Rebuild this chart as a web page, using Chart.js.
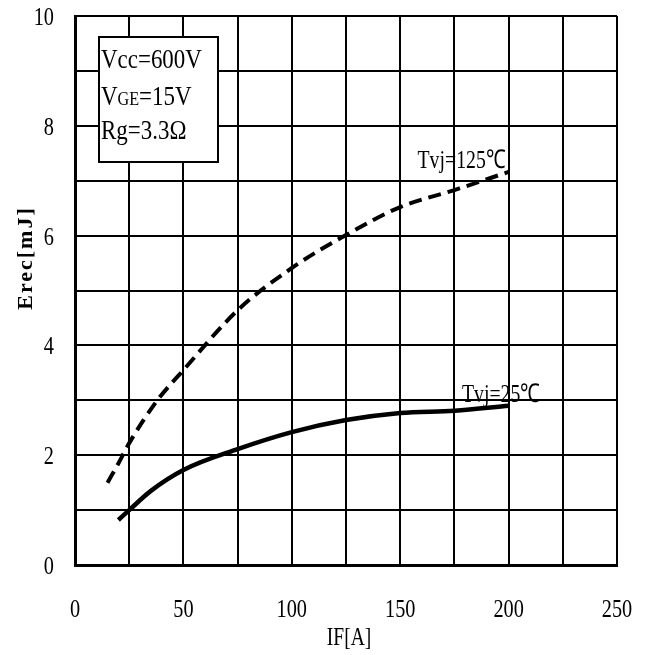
<!DOCTYPE html>
<html>
<head>
<meta charset="utf-8">
<script src="https://cdn.jsdelivr.net/npm/chart.js@4/dist/chart.umd.min.js"></script>
<style>
  html, body { margin: 0; padding: 0; background: #fff; }
  #wrap { width: 653px; height: 655px; position: relative; }
</style>
</head>
<body>
<div id="wrap"><canvas id="erecChart"></canvas></div>
<script>
"use strict";

// values
const xTicks = [0, 50, 100, 150, 200, 250];
const yTicks = [0, 2, 4, 6, 8, 10];

const ifHot = [15, 20, 25, 38, 50, 75, 100, 125, 150, 175, 200];
const erecHot = [1.5, 1.85, 2.22, 3.0, 3.55, 4.64, 5.41, 6.01, 6.52, 6.83, 7.16];

const ifCold = [20, 25, 35, 50, 75, 100, 125, 150, 175, 200];
const erecCold = [0.82, 1.0, 1.35, 1.73, 2.11, 2.42, 2.64, 2.77, 2.81, 2.9];

const condLines = ['Vcc=600V', 'VGE=15V', 'Rg=3.3Ω'];

const SERIF = '"Liberation Serif", "Times New Roman", serif';

function toPoints(xs, ys) {
  return xs.map((x, i) => ({ x: x, y: ys[i] }));
}

// text in the original is a narrow serif, so squeeze it a bit
function drawText(ctx, str, x, y, size, align, sx) {
  sx = sx || 0.78;
  ctx.save();
  ctx.translate(x, y);
  ctx.scale(sx, 1);
  ctx.font = size + 'px ' + SERIF;
  ctx.fillStyle = '#000';
  ctx.textAlign = align || 'left';
  ctx.textBaseline = 'alphabetic';
  ctx.fillText(str, 0, 0);
  const w = ctx.measureText(str).width * sx;
  ctx.restore();
  return w;
}

const textPlugin = {
  id: 'textPlugin',
  afterDraw(chart) {
    const ctx = chart.ctx;
    const xs = chart.scales.x;
    const ys = chart.scales.y;

    // tick labels
    xTicks.forEach(v => {
      drawText(ctx, String(v), xs.getPixelForValue(v), 617, 26, 'center');
    });
    yTicks.forEach(v => {
      drawText(ctx, String(v), 54, ys.getPixelForValue(v) + 9, 26, 'right');
    });

    // axis titles
    drawText(ctx, 'IF[A]', 349, 645, 25, 'center');
    ctx.save();
    ctx.translate(32, 258);
    ctx.rotate(-Math.PI / 2);
    ctx.font = 'bold 22px ' + SERIF;
    ctx.letterSpacing = '2px';
    ctx.textAlign = 'center';
    ctx.fillStyle = '#000';
    ctx.fillText('Erec[mJ]', 0, 0);
    ctx.restore();

    // condition box
    ctx.save();
    ctx.fillStyle = '#fff';
    ctx.strokeStyle = '#000';
    ctx.lineWidth = 2;
    ctx.fillRect(99, 37, 119, 125);
    ctx.strokeRect(99, 37, 119, 125);
    ctx.restore();
    drawText(ctx, condLines[0], 101, 68, 27, 'left', 0.85);
    let w = drawText(ctx, 'V', 101, 105, 27, 'left', 0.85);
    w += drawText(ctx, 'GE', 101 + w, 105, 19, 'left', 0.85);
    drawText(ctx, '=15V', 101 + w, 105, 27, 'left', 0.85);
    drawText(ctx, condLines[2], 101, 139, 27, 'left', 0.85);

    // curve labels
    drawText(ctx, 'Tvj=125℃', xs.getPixelForValue(158), ys.getPixelForValue(7.23), 26, 'left', 0.76);
    drawText(ctx, 'Tvj=25℃', xs.getPixelForValue(178.5), ys.getPixelForValue(2.97), 26, 'left', 0.76);
  }
};

const ctx = document.getElementById('erecChart').getContext('2d');
const chart = new Chart(ctx, {
  type: 'line',
  data: {
    datasets: [
      {
        label: 'Tvj=125℃',
        data: toPoints(ifHot, erecHot),
        borderColor: '#000',
        borderWidth: 4,
        borderDash: [13, 7],
        pointRadius: 0,
        cubicInterpolationMode: 'monotone',
        fill: false
      },
      {
        label: 'Tvj=25℃',
        data: toPoints(ifCold, erecCold),
        borderColor: '#000',
        borderWidth: 4.5,
        pointRadius: 0,
        cubicInterpolationMode: 'monotone',
        fill: false
      }
    ]
  },
  options: {
    responsive: true,
    maintainAspectRatio: false,
    animation: false,
    layout: { padding: { left: 75, right: 36, top: 16, bottom: 90 } },
    plugins: { legend: { display: false }, tooltip: { enabled: false } },
    scales: {
      x: {
        type: 'linear',
        min: 0,
        max: 250,
        ticks: { stepSize: 25, display: false },
        grid: { color: '#000', lineWidth: 2, drawTicks: false },
        border: { color: '#000', width: 3 }
      },
      y: {
        min: 0,
        max: 10,
        ticks: { stepSize: 1, display: false },
        grid: { color: '#000', lineWidth: 2, drawTicks: false },
        border: { color: '#000', width: 3 }
      }
    }
  },
  plugins: [textPlugin]
});
</script>
</body>
</html>
